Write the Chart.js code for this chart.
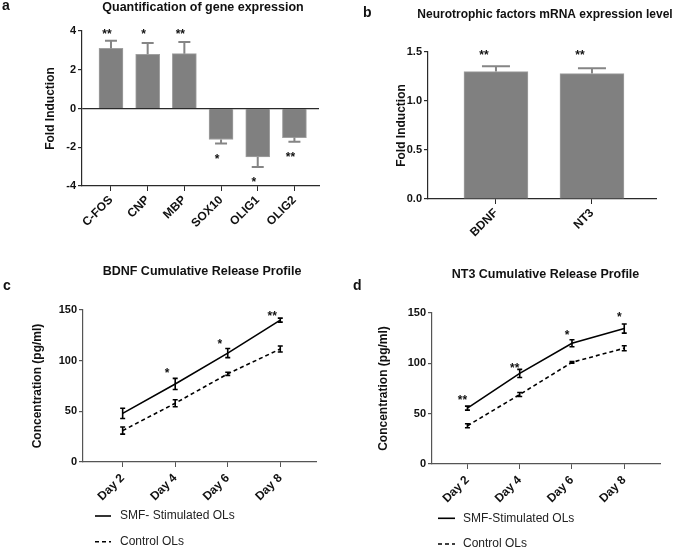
<!DOCTYPE html>
<html><head><meta charset="utf-8">
<script src="https://cdn.jsdelivr.net/npm/chart.js@4/dist/chart.umd.min.js"></script>
<style>
html,body{margin:0;padding:0;background:#fff;width:675px;height:549px;overflow:hidden}
canvas{position:absolute;display:block}
</style></head><body>
<canvas id="ca" width="337" height="240" style="left:0;top:0"></canvas>
<canvas id="cb" width="338" height="240" style="left:337px;top:0"></canvas>
<canvas id="cc" width="337" height="309" style="left:0;top:240px"></canvas>
<canvas id="cd" width="338" height="309" style="left:337px;top:240px"></canvas>
<script>
// ---- data ----
const genes = ['C-FOS','CNP','MBP','SOX10','OLIG1','OLIG2'];
const geneFold = [3.1, 2.8, 2.83, -1.6, -2.5, -1.5];
const geneErr = [0.4, 0.58, 0.6, 0.2, 0.52, 0.22];
const geneSig = ['**','*','**','*','*','**'];
const geneSigAt = [4, 4, 4, -2.5, -3.65, -2.35];

const factors = ['BDNF','NT3'];
const factorFold = [1.30, 1.28];
const factorErr = [0.055, 0.055];
const factorSig = ['**','**'];
const factorSigAt = [1.5, 1.5];

const days = ['Day 2','Day 4','Day 6','Day 8'];
const bdnfSMF = [48, 77, 107.5, 140];
const bdnfSMFErr = [5, 5.5, 4.5, 2];
const bdnfCtrl = [31, 58, 87, 111.5];
const bdnfCtrlErr = [3.5, 3.5, 1.5, 3];
const bdnfSig = ['', '*', '*', '**'];
const bdnfSigAt = [null, 90.5, 119, 146.5];

const nt3SMF = [55.5, 90, 120, 134.5];
const nt3SMFErr = [2, 4, 3.5, 4.5];
const nt3Ctrl = [38, 69, 101, 115];
const nt3CtrlErr = [2, 2, 0.8, 2.5];
const nt3Sig = ['**','**','*','*'];
const nt3SigAt = [66.5, 97.5, 130.5, 148.5];

const legendLabels = ['SMF- Stimulated OLs', 'Control OLs'];
const legendLabelsD = ['SMF-Stimulated OLs', 'Control OLs'];

// ---- style ----
const FF = "'Liberation Sans', Arial, sans-serif";
const AX = '#2a2a2a';
const AX2 = '#555555';
const BAR = '#808080';

const decor = {
  id: 'decor',
  afterDatasetsDraw(chart, args, o) {
    const ctx = chart.ctx, xs = chart.scales.x, ys = chart.scales.y;
    ctx.save();
    (o.errors || []).forEach(eb => {
      ctx.strokeStyle = eb.color; ctx.lineWidth = eb.width; ctx.setLineDash([]);
      eb.values.forEach((v, i) => {
        const e = eb.errs[i]; if (!e) return;
        const x = xs.getPixelForValue(i);
        const y0 = ys.getPixelForValue(eb.oneSided ? v : v - e);
        const y1 = ys.getPixelForValue(eb.oneSided ? v + Math.sign(v) * e : v + e);
        ctx.beginPath();
        ctx.moveTo(x, y0); ctx.lineTo(x, y1);
        ctx.moveTo(x - eb.cap / 2, y1); ctx.lineTo(x + eb.cap / 2, y1);
        if (!eb.oneSided) { ctx.moveTo(x - eb.cap / 2, y0); ctx.lineTo(x + eb.cap / 2, y0); }
        ctx.stroke();
      });
    });
    if (o.sig) {
      ctx.fillStyle = '#111'; ctx.font = 'bold 12px ' + FF;
      ctx.textAlign = 'center'; ctx.textBaseline = 'alphabetic';
      o.sig.forEach((s, i) => {
        if (!s) return;
        ctx.fillText(s, xs.getPixelForValue(i) + o.sigDx, ys.getPixelForValue(o.sigAt[i]) + 6.5);
      });
    }
    ctx.restore();
  },
  afterDraw(chart, args, o) {
    const ctx = chart.ctx;
    ctx.save();
    ctx.fillStyle = '#111';
    ctx.textBaseline = 'middle';
    ctx.font = 'bold ' + o.titleSize + 'px ' + FF; ctx.textAlign = 'center';
    ctx.fillText(o.title, o.titleX, o.titleY);
    ctx.font = 'bold 14px ' + FF; ctx.textAlign = 'left';
    ctx.fillText(o.panel, o.panelX, o.panelY);
    if (o.legend) {
      const L = o.legend;
      ctx.font = '12px ' + FF; ctx.fillStyle = '#222';
      L.labels.forEach((t, i) => {
        const y = L.y[i];
        ctx.strokeStyle = '#000'; ctx.lineWidth = 1.6;
        ctx.setLineDash(i === 0 ? [] : [4, 3]);
        ctx.beginPath(); ctx.moveTo(L.x0, y); ctx.lineTo(L.x1, y); ctx.stroke();
        ctx.setLineDash([]);
        ctx.fillText(t, L.tx, y);
      });
    }
    ctx.restore();
  }
};

function yAxis(min, max, step, width, titleText, titlePad, fmt, zeroLine, axc) {
  return {
    type: 'linear', min, max,
    ticks: { stepSize: step, color: '#111', font: { family: FF, size: 11, weight: 'bold' }, padding: 2,
             callback: v => fmt ? v.toFixed(1) : String(v) },
    grid: { display: true, drawOnChartArea: !!zeroLine, drawTicks: true, tickLength: 4, tickColor: axc,
            color: c => (zeroLine && c.tick && c.tick.value === 0) ? axc : 'rgba(0,0,0,0)', lineWidth: 1.2 },
    border: { display: true, color: axc, width: 1.2 },
    title: { display: true, text: titleText, color: '#111', font: { family: FF, size: 12, weight: 'bold' },
             padding: { top: titlePad, bottom: 0 } },
    afterFit: s => { s.width = width; }
  };
}
function xAxis(labels, min, max, height, pad, axc) {
  return {
    type: 'linear', min, max, offset: false,
    afterBuildTicks: s => { s.ticks = labels.map((_, i) => ({ value: i })); },
    ticks: { autoSkip: false, minRotation: 45, maxRotation: 45, color: '#111', padding: pad,
             font: { family: FF, size: 12, weight: 'bold' }, callback: (v, i) => labels[i] },
    grid: { display: true, offset: false, drawOnChartArea: false, drawTicks: true, tickLength: 5, tickColor: axc },
    border: { display: true, color: axc, width: 1.2 },
    afterFit: s => { s.height = height; }
  };
}
const pts = arr => arr.map((v, i) => ({ x: i, y: v }));
const base = { responsive: false, animation: false, devicePixelRatio: 1 };

// ---- a ----
new Chart(document.getElementById('ca'), {
  type: 'bar',
  data: { datasets: [{ data: pts(geneFold), backgroundColor: BAR, borderColor: '#a0a0a0', borderWidth: 1, barThickness: 24 }] },
  options: Object.assign({}, base, {
    layout: { padding: { left: 0, top: 31, right: 18, bottom: 0 } },
    scales: { x: xAxis(genes, -0.79, 5.67, 54, 2, AX), y: yAxis(-4, 4, 2, 82, 'Fold Induction', 43, false, true, AX) },
    plugins: { legend: { display: false }, tooltip: { enabled: false },
      decor: { title: 'Quantification of gene expression', titleSize: 12.5, titleX: 203, titleY: 8, panel: 'a', panelX: 2, panelY: 6,
        errors: [{ values: geneFold, errs: geneErr, oneSided: true, color: '#858585', width: 2, cap: 12 }],
        sig: geneSig, sigAt: geneSigAt, sigDx: -4 } }
  }),
  plugins: [decor]
});

// ---- b ----
new Chart(document.getElementById('cb'), {
  type: 'bar',
  data: { datasets: [{ data: pts(factorFold), backgroundColor: BAR, borderColor: '#a0a0a0', borderWidth: 1, barThickness: 64 }] },
  options: Object.assign({}, base, {
    layout: { padding: { left: 0, top: 52, right: 19, bottom: 0 } },
    scales: { x: xAxis(factors, -0.708, 1.667, 41, 2, AX), y: yAxis(0, 1.5, 0.5, 91, 'Fold Induction', 57, true, false, AX) },
    plugins: { legend: { display: false }, tooltip: { enabled: false },
      decor: { title: 'Neurotrophic factors mRNA expression level', titleSize: 12, titleX: 208, titleY: 15, panel: 'b', panelX: 26, panelY: 13,
        errors: [{ values: factorFold, errs: factorErr, oneSided: true, color: '#858585', width: 2, cap: 28 }],
        sig: factorSig, sigAt: factorSigAt, sigDx: -12 } }
  }),
  plugins: [decor]
});

function lineChart(id, smf, ctrl, smfErr, ctrlErr, sig, sigAt, o) {
  new Chart(document.getElementById(id), {
    type: 'line',
    data: { datasets: [
      { label: o.labels[0], data: pts(smf), borderColor: '#000', borderWidth: 1.6, pointRadius: 0, tension: 0, fill: false },
      { label: o.labels[1], data: pts(ctrl), borderColor: '#000', borderWidth: 1.6, borderDash: [4, 3], pointRadius: 0, tension: 0, fill: false }
    ] },
    options: Object.assign({}, base, {
      layout: { padding: { left: 0, top: o.top, right: o.right, bottom: 0 } },
      scales: { x: xAxis(days, o.xmin, o.xmax, o.xh, 4, AX2), y: yAxis(0, 150, 50, o.yw, 'Concentration (pg/ml)', o.tpad, false, false, AX2) },
      plugins: { legend: { display: false }, tooltip: { enabled: false },
        decor: { title: o.title, titleSize: 12.5, titleX: o.titleX, titleY: o.titleY, panel: o.panel, panelX: o.panelX, panelY: o.panelY,
          errors: [
            { values: smf, errs: smfErr, oneSided: false, color: '#000', width: 1.6, cap: 5 },
            { values: ctrl, errs: ctrlErr, oneSided: false, color: '#000', width: 1.6, cap: 5 }
          ],
          sig, sigAt, sigDx: o.sigDx,
          legend: { labels: o.labels, x0: o.lx0, x1: o.lx1, tx: o.tx, y: o.ly } } }
    }),
    plugins: [decor]
  });
}

// ---- c ----
lineChart('cc', bdnfSMF, bdnfCtrl, bdnfSMFErr, bdnfCtrlErr, bdnfSig, bdnfSigAt, {
  labels: legendLabels, top: 70, right: 21, xmin: -0.755, xmax: 3.68, xh: 87, yw: 83, tpad: 30,
  title: 'BDNF Cumulative Release Profile', titleX: 202, titleY: 31.5, panel: 'c', panelX: 3, panelY: 46,
  sigDx: -8, lx0: 95, lx1: 111, tx: 120, ly: [276, 301.7]
});

// ---- d ----
lineChart('cd', nt3SMF, nt3Ctrl, nt3SMFErr, nt3CtrlErr, nt3Sig, nt3SigAt, {
  labels: legendLabelsD, top: 73, right: 15, xmin: -0.678, xmax: 3.684, xh: 85, yw: 95, tpad: 39,
  title: 'NT3 Cumulative Release Profile', titleX: 208.5, titleY: 34.5, panel: 'd', panelX: 16, panelY: 46,
  sigDx: -5, lx0: 101, lx1: 118, tx: 126, ly: [278.3, 304]
});
</script>
</body></html>
